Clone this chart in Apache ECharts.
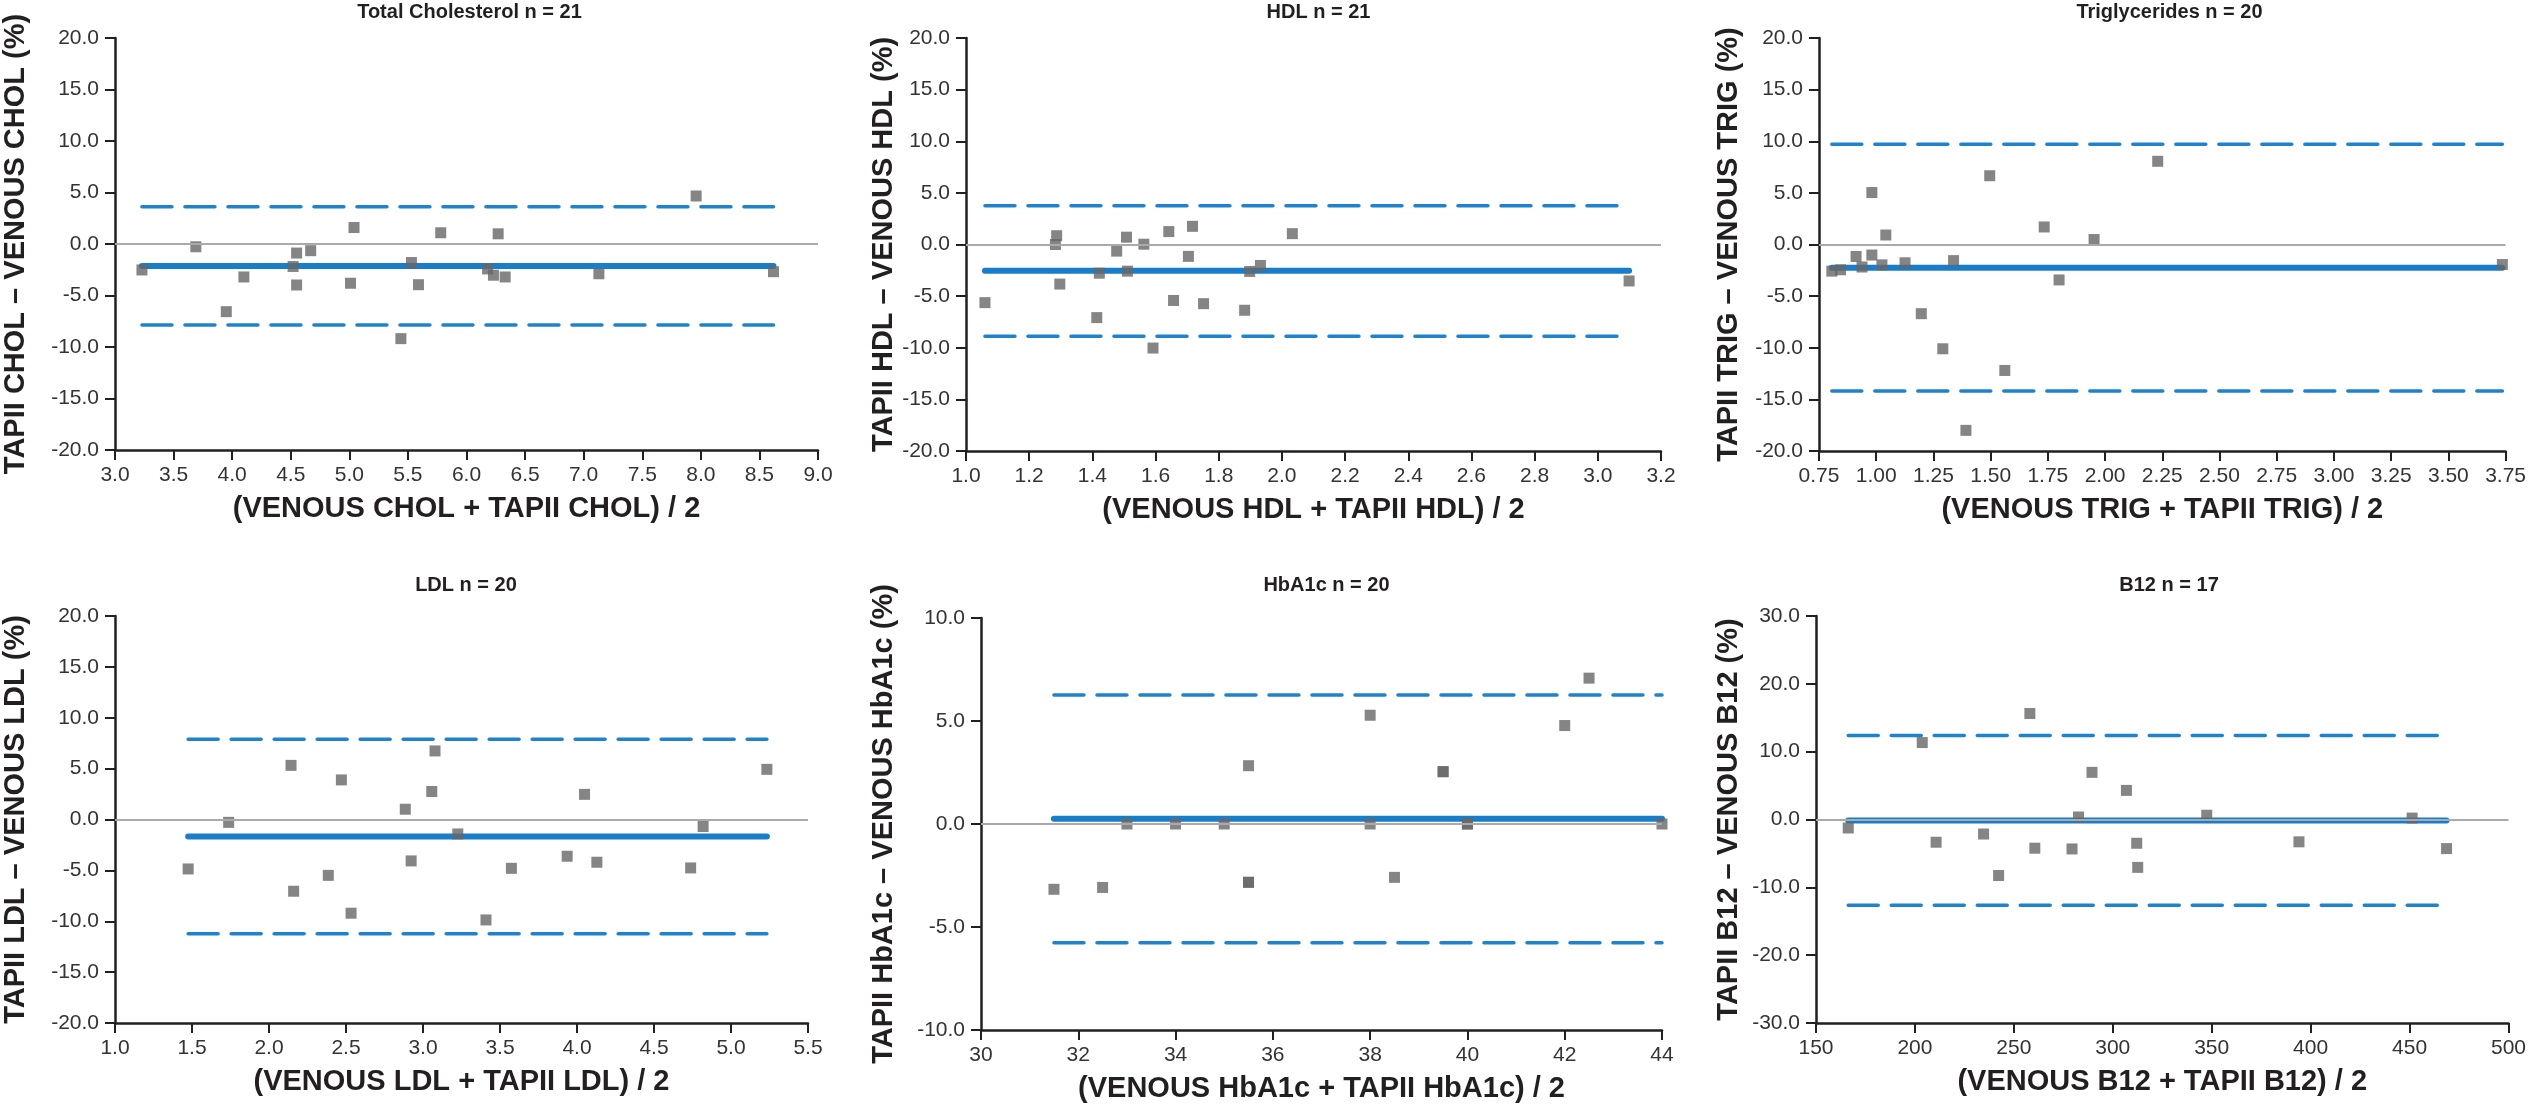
<!DOCTYPE html>
<html>
<head>
<meta charset="utf-8">
<title>Bland-Altman plots</title>
<script src="https://cdn.jsdelivr.net/npm/echarts@6/dist/echarts.min.js"></script>
<style>
  html, body { margin: 0; padding: 0; background: #fff; }
  #main { width: 2529px; height: 1104px; }
</style>
</head>
<body>
<div id="main"></div>
<script>
// values: x = mean of the two methods, y = difference (%)
var cholX = [3.23, 3.69, 3.95, 4.10, 4.52, 4.55, 4.55, 4.67, 5.04, 5.01, 5.44, 5.53, 5.59, 5.78, 6.18, 6.23, 6.27, 6.33, 7.13, 7.96, 8.62];
var cholY = [-2.52, -0.27, -6.57, -3.20, -2.18, -3.98, -0.88, -0.65, 1.60, -3.81, -9.19, -1.80, -3.95, 1.09, -2.42, -3.03, 0.99, -3.20, -2.89, 4.66, -2.69];
var cholStats = [-2.14, 3.61, -7.86];   // mean, upper limit, lower limit

var hdlX = [1.06, 1.283, 1.287, 1.297, 1.414, 1.422, 1.477, 1.508, 1.511, 1.563, 1.592, 1.642, 1.657, 1.704, 1.717, 1.752, 1.882, 1.898, 1.932, 2.033, 3.099];
var hdlY = [-5.63, 0.00, 0.85, -3.83, -7.08, -2.78, -0.64, 0.71, -2.58, 0.03, -10.03, 1.25, -5.42, -1.15, 1.76, -5.73, -6.37, -2.61, -2.03, 1.05, -3.53];
var hdlStats = [-2.54, 3.76, -8.88];

var trigX = [0.806, 0.844, 0.912, 0.938, 0.981, 0.981, 1.025, 1.042, 1.126, 1.197, 1.291, 1.338, 1.392, 1.496, 1.562, 1.734, 1.799, 1.952, 2.230, 3.736];
var trigY = [-2.58, -2.45, -1.16, -2.18, 5.03, -1.02, -1.97, 0.92, -1.77, -6.70, -10.10, -1.56, -18.00, 6.66, -12.20, 1.70, -3.43, 0.48, 8.06, -1.94];
var trigStats = [-2.24, 9.72, -14.18];

var ldlX = [1.475, 1.738, 2.143, 2.160, 2.385, 2.470, 2.533, 2.885, 2.923, 3.057, 3.078, 3.226, 3.409, 3.574, 3.936, 4.049, 4.129, 4.738, 4.819, 5.233];
var ldlY = [-4.86, -0.28, 5.32, -7.05, -5.49, 3.89, -9.21, 1.01, -4.07, 2.75, 6.74, -1.42, -9.87, -4.80, -3.61, 2.47, -4.20, -4.76, -0.69, 4.93];
var ldlStats = [-1.67, 7.89, -11.22];

var hbX = [31.5, 32.5, 33, 34, 35, 35.5, 35.5, 35.5, 38, 38, 38.5, 39.5, 39.5, 40, 40, 42, 42.5, 44];
var hbY = [-3.17, -3.08, 0, 0, 0, 2.83, -2.83, -2.83, 5.28, 0, -2.59, 2.54, 2.54, 0, 0, 4.78, 7.08, 0];
var hbStats = [0.26, 6.26, -5.76];

var b12X = [166.3, 203.7, 210.7, 234.7, 242.3, 258.1, 260.6, 279.4, 282.7, 289.5, 306.9, 312.1, 312.6, 347.5, 394.1, 451.3, 468.7];
var b12Y = [-1.25, 11.34, -3.35, -2.14, -8.26, 15.63, -4.23, -4.34, 0.37, 6.95, 4.29, -3.50, -7.06, 0.63, -3.29, 0.21, -4.29];
var b12Stats = [-0.16, 12.39, -12.65];

var titles = ['Total Cholesterol n = 21', 'HDL n = 21', 'Triglycerides n = 20', 'LDL n = 20', 'HbA1c n = 20', 'B12 n = 17'];
var xNames = ['(VENOUS CHOL + TAPII CHOL) / 2', '(VENOUS HDL + TAPII HDL) / 2', '(VENOUS TRIG + TAPII TRIG) / 2',
              '(VENOUS LDL + TAPII LDL) / 2', '(VENOUS HbA1c + TAPII HbA1c) / 2', '(VENOUS B12 + TAPII B12) / 2'];
var yNames = ['TAPII CHOL \u2013 VENOUS CHOL (%)', 'TAPII HDL \u2013 VENOUS HDL (%)', 'TAPII TRIG \u2013 VENOUS TRIG (%)',
              'TAPII LDL \u2013 VENOUS LDL (%)', 'TAPII HbA1c \u2013 VENOUS HbA1c (%)', 'TAPII B12 \u2013 VENOUS B12 (%)'];

var panels = [
  { x: cholX, y: cholY, s: cholStats, xr: [3, 9, 0.5, 1],     yr: [-20, 20, 5],
    box: [111, 38, 707, 412], ygap: 85 },
  { x: hdlX,  y: hdlY,  s: hdlStats,  xr: [1, 3.2, 0.2, 1],   yr: [-20, 20, 5],
    box: [966, 38, 695, 413], ygap: 68 },
  { x: trigX, y: trigY, s: trigStats, xr: [0.75, 3.75, 0.25, 2], yr: [-20, 20, 5],
    box: [1819, 38, 691, 413], ygap: 76 },
  { x: ldlX,  y: ldlY,  s: ldlStats,  xr: [1, 5.5, 0.5, 1],   yr: [-20, 20, 5],
    box: [114, 616, 694, 407], ygap: 85 },
  { x: hbX,   y: hbY,   s: hbStats,   xr: [30, 44, 2, 0],     yr: [-10, 10, 5],
    box: [981, 618, 681, 412], ygap: 83 },
  { x: b12X,  y: b12Y,  s: b12Stats,  xr: [150, 500, 50, 0],  yr: [-30, 30, 10],
    box: [1816, 616, 696, 407], ygap: 73 }
];

var ink = '#231f20';
var blue = '#1a7dc9';
var font = '"Liberation Sans", Arial, Helvetica, sans-serif';

var option = { animation: false, backgroundColor: '#fff', title: [], grid: [], xAxis: [], yAxis: [], series: [] };

panels.forEach(function (p, i) {
  var b = p.box;
  var x0 = Math.min.apply(null, p.x), x1 = Math.max.apply(null, p.x);

  option.title.push({
    text: titles[i], left: b[0] + b[2] / 2, top: i < 3 ? -3 : 570, textAlign: 'center',
    textStyle: { fontFamily: font, fontSize: 20, fontWeight: 'bold', color: ink }
  });
  option.grid.push({ left: b[0], top: b[1], width: b[2], height: b[3] });

  option.xAxis.push({
    gridIndex: i, type: 'value', min: p.xr[0], max: p.xr[1], interval: p.xr[2],
    name: xNames[i], nameLocation: 'middle', nameGap: 44,
    nameTextStyle: { fontFamily: font, fontSize: 29, fontWeight: 'bold', color: ink },
    axisLine: { onZero: false, lineStyle: { color: ink, width: 2.5 } },
    axisTick: { length: 10, lineStyle: { color: ink, width: 2 } },
    axisLabel: { margin: 15, fontFamily: font, fontSize: 21, color: '#333',
      formatter: (function (d) { return function (v) { return v.toFixed(d); }; })(p.xr[3]) },
    splitLine: { show: false }
  });
  option.yAxis.push({
    gridIndex: i, type: 'value', min: p.yr[0], max: p.yr[1], interval: p.yr[2],
    name: yNames[i], nameLocation: 'middle', nameGap: p.ygap,
    nameTextStyle: { fontFamily: font, fontSize: 29, fontWeight: 'bold', color: ink },
    axisLine: { show: true, onZero: false, lineStyle: { color: ink, width: 2.5 } },
    axisTick: { show: true, length: 10, lineStyle: { color: ink, width: 2 } },
    axisLabel: { margin: 16, fontFamily: font, fontSize: 21, color: '#333',
      formatter: function (v) { return v.toFixed(1); } },
    splitLine: { show: false }
  });

  // zero reference line
  option.series.push({
    type: 'line', xAxisIndex: i, yAxisIndex: i, data: [], silent: true, z: 1,
    markLine: { symbol: 'none', silent: true, label: { show: false },
      lineStyle: { color: '#aaaaaa', width: 2, type: 'solid' }, data: [{ yAxis: 0 }] }
  });
  // mean difference
  option.series.push({
    type: 'line', xAxisIndex: i, yAxisIndex: i, symbol: 'none', silent: true, z: 2,
    lineStyle: { color: blue, width: 6, cap: 'round' },
    data: [[x0, p.s[0]], [x1, p.s[0]]]
  });
  // limits of agreement
  [p.s[1], p.s[2]].forEach(function (lv) {
    option.series.push({
      type: 'line', xAxisIndex: i, yAxisIndex: i, symbol: 'none', silent: true, z: 2,
      lineStyle: { color: '#1f82cc', width: 3.5, type: [30, 13], cap: 'round' },
      data: [[x0, lv], [x1, lv]]
    });
  });
  option.series.push({
    type: 'scatter', xAxisIndex: i, yAxisIndex: i, symbol: 'rect', symbolSize: 11, z: 3,
    itemStyle: { color: '#666666', opacity: 0.8 },
    data: p.x.map(function (v, k) { return [v, p.y[k]]; })
  });
});

var myChart = echarts.init(document.getElementById('main'));
myChart.setOption(option);
</script>
</body>
</html>
